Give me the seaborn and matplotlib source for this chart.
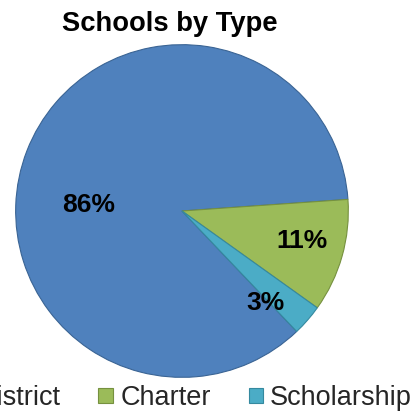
import matplotlib
matplotlib.use("Agg")
import matplotlib.pyplot as plt
import seaborn as sns

# School counts by type, in percent
categories = ["District", "Charter", "Scholarship"]
shares = [86, 11, 3]
colors = ["#4F81BD", "#9BBB59", "#4BACC6"]
edge_colors = ["#3A6494", "#76913F", "#35899F"]

# Where each percentage label sits, in pie radius units
label_xy = [(-0.56, 0.036), (0.72, -0.179), (0.50, -0.554)]

sns.set_theme(style="white")
plt.rcParams["font.family"] = ["Liberation Sans", "DejaVu Sans"]

fig = plt.figure(figsize=(4.18, 4.16), dpi=100)
ax = fig.add_axes([14 / 418, 37 / 416, 336 / 418, 336 / 416])

wedges, _ = ax.pie(
    shares,
    colors=colors,
    startangle=-46.4,
    counterclock=False,
    radius=1.0,
    wedgeprops=dict(linewidth=0.8),
)
for w, ec in zip(wedges, edge_colors):
    w.set_edgecolor(ec)

for val, (x, y) in zip(shares, label_xy):
    ax.text(x, y, f"{val}%", ha="center", va="center",
            fontsize=19, fontweight="bold", color="black")

ax.set_xlim(-1.01, 1.01)
ax.set_ylim(-1.01, 1.01)
ax.set_aspect("equal")
ax.axis("off")

fig.text(170 / 418, 1 - 24 / 416, "Schools by Type", ha="center", va="center",
         fontsize=19.7, fontweight="bold", color="black")

handles = [plt.Rectangle((0, 0), 1, 1, facecolor=c, edgecolor=ec, linewidth=0.8)
           for c, ec in zip(colors, edge_colors)]
fig.legend(handles, categories, loc="center", ncol=3,
           bbox_to_anchor=(184 / 418, 1 - 398 / 416),
           frameon=False, fontsize=19.5, handlelength=0.55, handleheight=0.5,
           handletextpad=0.25, columnspacing=1.4, borderaxespad=0,
           borderpad=0)

fig.savefig("out.png", dpi=100)
